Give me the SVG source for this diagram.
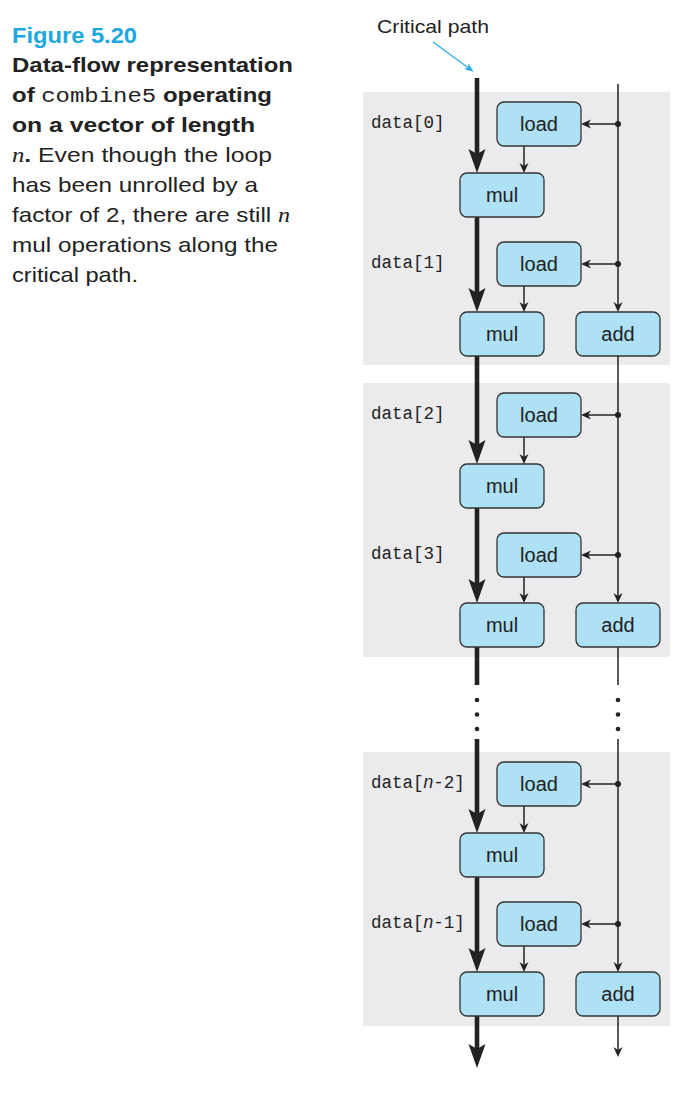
<svg xmlns="http://www.w3.org/2000/svg" width="698" height="1096" viewBox="0 0 698 1096">
<style>
.panel{fill:#ebebed}
.box{fill:#aee0f6;stroke:#333;stroke-width:1.3}
.bt{font-family:"Liberation Sans",Arial,sans-serif;font-size:20px;fill:#222;text-anchor:middle}
.lbl{font-family:"Liberation Mono","Courier New",monospace;font-size:17.5px;fill:#222}
.thick{stroke:#222;stroke-width:4.6;fill:none}
.thin{stroke:#222;stroke-width:1.5;fill:none}
.cap{font-family:"Liberation Sans",Arial,sans-serif;font-size:21px;fill:#222}
.b{font-weight:bold}
</style>
<defs>
<marker id="ahT" markerUnits="userSpaceOnUse" orient="auto" refX="0" refY="0" markerWidth="40" markerHeight="30" overflow="visible">
<path d="M16,0 L-8,-8.5 L-3,0 L-8,8.5 Z" fill="#222"/>
</marker>
<marker id="ah" markerUnits="userSpaceOnUse" orient="auto" refX="0" refY="0" markerWidth="20" markerHeight="20" overflow="visible">
<path d="M3,0 L-7,-4.5 L-4,0 L-7,4.5 Z" fill="#222"/>
</marker>
<marker id="ahB" markerUnits="userSpaceOnUse" orient="auto" refX="0" refY="0" markerWidth="20" markerHeight="20" overflow="visible">
<path d="M2,0 L-7,-3.5 L-5,0 L-7,3.5 Z" fill="#29abe2"/>
</marker>
</defs>

<!-- caption -->
<g id="caption">
<text x="12" y="43" font-family="'Liberation Sans',Arial,sans-serif" font-size="22" font-weight="bold" fill="#1ea7e0" textLength="125" lengthAdjust="spacingAndGlyphs">Figure 5.20</text>
<text class="cap b" x="12" y="72" textLength="281" lengthAdjust="spacingAndGlyphs">Data-flow representation</text>
<text class="cap" x="12" y="102" textLength="260" lengthAdjust="spacingAndGlyphs"><tspan class="b">of </tspan><tspan font-family="'Liberation Mono','Courier New',monospace" font-size="21">combine5</tspan><tspan class="b"> operating</tspan></text>
<text class="cap b" x="12" y="132" textLength="243" lengthAdjust="spacingAndGlyphs">on a vector of length</text>
<text class="cap" x="12" y="162" textLength="260" lengthAdjust="spacingAndGlyphs"><tspan font-family="'Liberation Serif','Times New Roman',serif" font-style="italic">n</tspan><tspan class="b">.</tspan> Even though the loop</text>
<text class="cap" x="12" y="192" textLength="246" lengthAdjust="spacingAndGlyphs">has been unrolled by a</text>
<text class="cap" x="12" y="222" textLength="278" lengthAdjust="spacingAndGlyphs">factor of 2, there are still <tspan font-family="'Liberation Serif','Times New Roman',serif" font-style="italic">n</tspan></text>
<text class="cap" x="12" y="252" textLength="266" lengthAdjust="spacingAndGlyphs">mul operations along the</text>
<text class="cap" x="12" y="282" textLength="126" lengthAdjust="spacingAndGlyphs">critical path.</text>
</g>

<!-- panels -->
<g id="panels">
<rect class="panel" x="363" y="92" width="307" height="273"/>
<rect class="panel" x="363" y="383" width="307" height="274"/>
<rect class="panel" x="363" y="752" width="307" height="274"/>
</g>

<g id="critical-label">
<text x="433" y="33" font-family="'Liberation Sans',Arial,sans-serif" font-size="19" fill="#222" text-anchor="middle" textLength="112" lengthAdjust="spacingAndGlyphs">Critical path</text>
<line x1="433" y1="42" x2="472" y2="70.5" stroke="#29abe2" stroke-width="1.2" marker-end="url(#ahB)"/>
</g>

<!-- connectors -->
<g id="connectors">
<!-- critical path -->
<line class="thick" x1="477" y1="78" x2="477" y2="157" marker-end="url(#ahT)"/>
<line class="thick" x1="477" y1="217" x2="477" y2="296" marker-end="url(#ahT)"/>
<line class="thick" x1="477" y1="356" x2="477" y2="448" marker-end="url(#ahT)"/>
<line class="thick" x1="477" y1="508" x2="477" y2="587" marker-end="url(#ahT)"/>
<line class="thick" x1="477" y1="647" x2="477" y2="685"/>
<line class="thick" x1="477" y1="739" x2="477" y2="817" marker-end="url(#ahT)"/>
<line class="thick" x1="477" y1="877" x2="477" y2="956" marker-end="url(#ahT)"/>
<line class="thick" x1="477" y1="1016" x2="477" y2="1052" marker-end="url(#ahT)"/>
<!-- load -> mul -->
<line class="thin" x1="524" y1="146" x2="524" y2="170" marker-end="url(#ah)"/>
<line class="thin" x1="524" y1="286" x2="524" y2="309" marker-end="url(#ah)"/>
<line class="thin" x1="524" y1="437" x2="524" y2="461" marker-end="url(#ah)"/>
<line class="thin" x1="524" y1="577" x2="524" y2="600" marker-end="url(#ah)"/>
<line class="thin" x1="524" y1="806" x2="524" y2="830" marker-end="url(#ah)"/>
<line class="thin" x1="524" y1="946" x2="524" y2="969" marker-end="url(#ah)"/>
<!-- right index line -->
<line class="thin" x1="618" y1="84" x2="618" y2="309" marker-end="url(#ah)"/>
<line class="thin" x1="618" y1="356" x2="618" y2="600" marker-end="url(#ah)"/>
<line class="thin" x1="618" y1="647" x2="618" y2="685"/>
<line class="thin" x1="618" y1="739" x2="618" y2="969" marker-end="url(#ah)"/>
<line class="thin" x1="618" y1="1016" x2="618" y2="1054" marker-end="url(#ah)"/>
<!-- branches to load -->
<line class="thin" x1="618" y1="124" x2="584" y2="124" marker-end="url(#ah)"/>
<line class="thin" x1="618" y1="264" x2="584" y2="264" marker-end="url(#ah)"/>
<line class="thin" x1="618" y1="415" x2="584" y2="415" marker-end="url(#ah)"/>
<line class="thin" x1="618" y1="555" x2="584" y2="555" marker-end="url(#ah)"/>
<line class="thin" x1="618" y1="784" x2="584" y2="784" marker-end="url(#ah)"/>
<line class="thin" x1="618" y1="924" x2="584" y2="924" marker-end="url(#ah)"/>
<g fill="#222">
<circle cx="618" cy="124" r="3"/>
<circle cx="618" cy="264" r="3"/>
<circle cx="618" cy="415" r="3"/>
<circle cx="618" cy="555" r="3"/>
<circle cx="618" cy="784" r="3"/>
<circle cx="618" cy="924" r="3"/>
<circle cx="477" cy="700" r="2.3"/>
<circle cx="477" cy="714.5" r="2.3"/>
<circle cx="477" cy="729" r="2.3"/>
<circle cx="618" cy="700" r="2.3"/>
<circle cx="618" cy="714.5" r="2.3"/>
<circle cx="618" cy="729" r="2.3"/>
</g>
</g>

<!-- labels -->
<g id="labels">
<text class="lbl" x="371" y="128">data[0]</text>
<text class="lbl" x="371" y="268">data[1]</text>
<text class="lbl" x="371" y="419">data[2]</text>
<text class="lbl" x="371" y="559">data[3]</text>
<text class="lbl" x="371" y="788">data[<tspan font-family="'Liberation Sans',Arial,sans-serif" font-style="italic">n</tspan>-2]</text>
<text class="lbl" x="371" y="928">data[<tspan font-family="'Liberation Sans',Arial,sans-serif" font-style="italic">n</tspan>-1]</text>
</g>

<!-- panel 1 -->
<g id="load0"><rect class="box" x="497" y="102" width="84" height="44" rx="7"/><text class="bt" x="539" y="131">load</text></g>
<g id="mul0"><rect class="box" x="460" y="173" width="84" height="44" rx="7"/><text class="bt" x="502" y="202">mul</text></g>
<g id="load1"><rect class="box" x="497" y="242" width="84" height="44" rx="7"/><text class="bt" x="539" y="271">load</text></g>
<g id="mul1"><rect class="box" x="460" y="312" width="84" height="44" rx="7"/><text class="bt" x="502" y="341">mul</text></g>
<g id="add1"><rect class="box" x="576" y="312" width="84" height="44" rx="7"/><text class="bt" x="618" y="341">add</text></g>
<!-- panel 2 -->
<g id="load2"><rect class="box" x="497" y="393" width="84" height="44" rx="7"/><text class="bt" x="539" y="422">load</text></g>
<g id="mul2"><rect class="box" x="460" y="464" width="84" height="44" rx="7"/><text class="bt" x="502" y="493">mul</text></g>
<g id="load3"><rect class="box" x="497" y="533" width="84" height="44" rx="7"/><text class="bt" x="539" y="562">load</text></g>
<g id="mul3"><rect class="box" x="460" y="603" width="84" height="44" rx="7"/><text class="bt" x="502" y="632">mul</text></g>
<g id="add3"><rect class="box" x="576" y="603" width="84" height="44" rx="7"/><text class="bt" x="618" y="632">add</text></g>
<!-- panel 3 -->
<g id="loadn2"><rect class="box" x="497" y="762" width="84" height="44" rx="7"/><text class="bt" x="539" y="791">load</text></g>
<g id="muln2"><rect class="box" x="460" y="833" width="84" height="44" rx="7"/><text class="bt" x="502" y="862">mul</text></g>
<g id="loadn1"><rect class="box" x="497" y="902" width="84" height="44" rx="7"/><text class="bt" x="539" y="931">load</text></g>
<g id="muln1"><rect class="box" x="460" y="972" width="84" height="44" rx="7"/><text class="bt" x="502" y="1001">mul</text></g>
<g id="addn1"><rect class="box" x="576" y="972" width="84" height="44" rx="7"/><text class="bt" x="618" y="1001">add</text></g>
</svg>
